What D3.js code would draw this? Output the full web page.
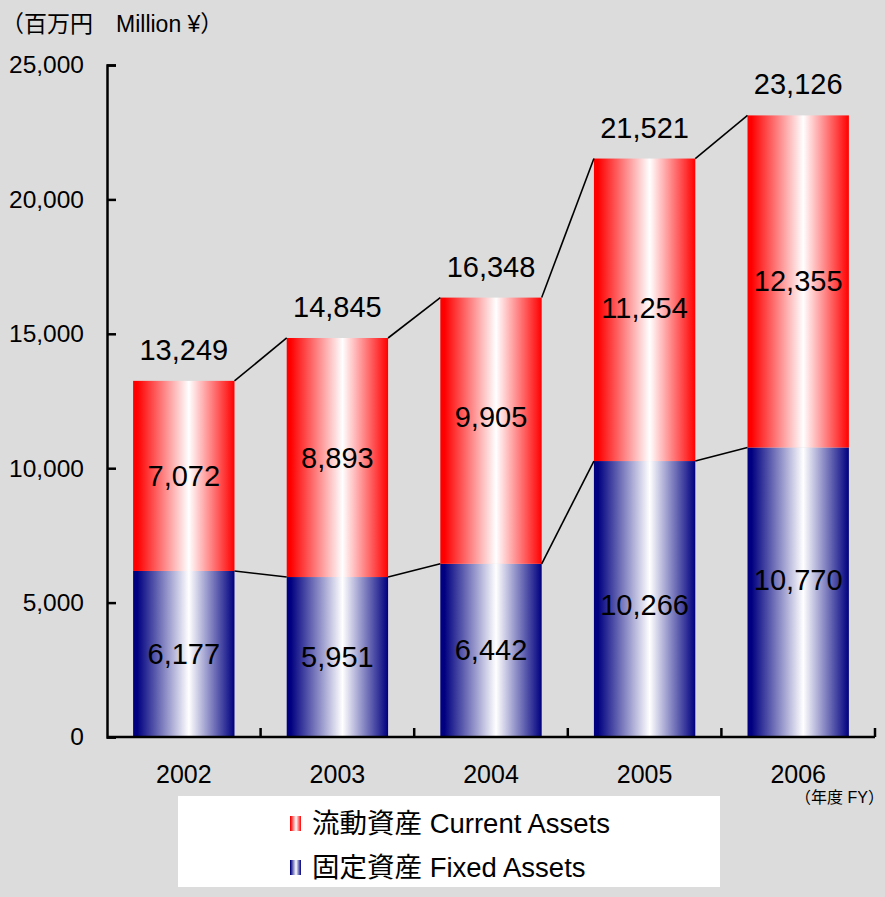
<!DOCTYPE html>
<html>
<head>
<meta charset="utf-8">
<script src="https://cdn.jsdelivr.net/npm/d3@7"></script>
<style>
  html, body { margin: 0; padding: 0; background: #dcdcdc; }
  svg { display: block; font-family: "Liberation Sans", Arial, "Noto Sans CJK JP", sans-serif; }
</style>
</head>
<body>
<svg id="chart" width="885" height="897"></svg>
<script>
const years = ["2002", "2003", "2004", "2005", "2006"];
const fixedAssets = [6177, 5951, 6442, 10266, 10770];
const currentAssets = [7072, 8893, 9905, 11254, 12355];
const totals = [13249, 14845, 16348, 21521, 23126];
const yTicks = [0, 5000, 10000, 15000, 20000, 25000];
const unitLabel = "（百万円　Million ¥）";
const fyLabel = "（年度 FY）";
const legendLabels = ["流動資産 Current Assets", "固定資産 Fixed Assets"];

(function () {
const svg = d3.select("#chart");
const W = 885, H = 897;
svg.append("rect").attr("width", W).attr("height", H).attr("fill", "#dcdcdc");

const pLeft = 107, pRight = 875, pTop = 65, pBottom = 737;
const x = d3.scaleBand().domain(years).range([pLeft, pRight]).paddingInner(0.34).paddingOuter(0.17);
const y = d3.scaleLinear().domain([0, 25000]).range([pBottom, pTop]);

const defs = svg.append("defs");
function grad(id, color) {
  const g = defs.append("linearGradient").attr("id", id).attr("x1", "0%").attr("x2", "100%").attr("y1", "0%").attr("y2", "0%");
  g.append("stop").attr("offset", "0%").attr("stop-color", color);
  g.append("stop").attr("offset", "4%").attr("stop-color", color);
  g.append("stop").attr("offset", "55%").attr("stop-color", "#ffffff");
  g.append("stop").attr("offset", "100%").attr("stop-color", color);
}
grad("gRed", "#ff0000");
grad("gBlue", "#000080");

// unit label
svg.append("text").attr("x", 1).attr("y", 32).attr("font-size", 23).attr("fill", "#000").text(unitLabel);

// y axis
const yAxis = d3.axisLeft(y).tickValues(yTicks).tickSize(-9).tickPadding(23).tickFormat(d3.format(","));
const gy = svg.append("g").attr("transform", `translate(${pLeft},0)`).call(yAxis);
gy.select(".domain").attr("stroke", "#000").attr("stroke-width", 2.5);
gy.selectAll(".tick line").attr("stroke", "#000").attr("stroke-width", 2.5);
gy.selectAll(".tick text").attr("font-size", 24.5).attr("fill", "#000").attr("font-family", "Liberation Sans, Arial, sans-serif");

// bars
const data = years.map((yr, i) => ({ yr, f: fixedAssets[i], c: currentAssets[i], t: totals[i] }));
const bw = x.bandwidth();
svg.selectAll(".bf").data(data).enter().append("rect")
  .attr("x", d => x(d.yr)).attr("width", bw)
  .attr("y", d => y(d.f)).attr("height", d => y(0) - y(d.f))
  .attr("fill", "url(#gBlue)");
svg.selectAll(".bc").data(data).enter().append("rect")
  .attr("x", d => x(d.yr)).attr("width", bw)
  .attr("y", d => y(d.f + d.c)).attr("height", d => y(d.f) - y(d.f + d.c))
  .attr("fill", "url(#gRed)");

// connecting lines
for (let i = 0; i < data.length - 1; i++) {
  const a = data[i], b = data[i + 1];
  [[a.f + a.c, b.f + b.c], [a.f, b.f]].forEach(([v1, v2]) => {
    svg.append("line")
      .attr("x1", x(a.yr) + bw).attr("y1", y(v1))
      .attr("x2", x(b.yr)).attr("y2", y(v2))
      .attr("stroke", "#000").attr("stroke-width", 1.6);
  });
}

// x axis
const gx = svg.append("g").attr("transform", `translate(0,${pBottom})`);
gx.append("line").attr("x1", pLeft).attr("x2", pRight).attr("y1", 0).attr("y2", 0).attr("stroke", "#000").attr("stroke-width", 2.5);
const step = x.step();
years.forEach((yr) => {
  const bx = x(yr) + bw / 2 + step / 2;
  gx.append("line").attr("x1", bx).attr("x2", bx).attr("y1", 0).attr("y2", -9).attr("stroke", "#000").attr("stroke-width", 2.5);
});
gx.selectAll(".xl").data(years).enter().append("text")
  .attr("x", d => x(d) + bw / 2).attr("y", 46)
  .attr("text-anchor", "middle").attr("font-size", 25).attr("fill", "#000").text(d => d);
svg.append("text").attr("x", 884).attr("y", 803).attr("text-anchor", "end").attr("font-size", 16).attr("fill", "#000").text(fyLabel);

// labels (small manual nudges as in the original chart)
const nudgeCur = [0, 0, -14, -2, 0];
const nudgeFix = [0, 0, 0, 6, -12];
const fmt = d3.format(",");
svg.selectAll(".lt").data(data).enter().append("text")
  .attr("x", d => x(d.yr) + bw / 2).attr("y", d => y(d.f + d.c) - 21)
  .attr("text-anchor", "middle").attr("font-size", 29).attr("fill", "#000").text(d => fmt(d.t));
svg.selectAll(".lc").data(data).enter().append("text")
  .attr("x", d => x(d.yr) + bw / 2).attr("y", (d, i) => (y(d.f) + y(d.f + d.c)) / 2 + 10 + nudgeCur[i])
  .attr("text-anchor", "middle").attr("font-size", 29).attr("fill", "#000").text(d => fmt(d.c));
svg.selectAll(".lf").data(data).enter().append("text")
  .attr("x", d => x(d.yr) + bw / 2).attr("y", (d, i) => (y(0) + y(d.f)) / 2 + 10 + nudgeFix[i])
  .attr("text-anchor", "middle").attr("font-size", 29).attr("fill", "#000").text(d => fmt(d.f));

// legend
const lg = svg.append("g");
lg.append("rect").attr("x", 178).attr("y", 796).attr("width", 542).attr("height", 91).attr("fill", "#fff");
const lgGrads = ["url(#gRed)", "url(#gBlue)"];
legendLabels.forEach((lab, i) => {
  const cy = 823 + i * 44;
  lg.append("rect").attr("x", 290).attr("y", cy - 7).attr("width", 11).attr("height", 15).attr("fill", lgGrads[i]);
  lg.append("text").attr("x", 312).attr("y", cy + 10).attr("font-size", 27.5).attr("fill", "#000")
    .attr("font-family", "Liberation Sans, Arial, 'Noto Sans CJK JP', sans-serif").text(lab);
});
})();
</script>
</body>
</html>
